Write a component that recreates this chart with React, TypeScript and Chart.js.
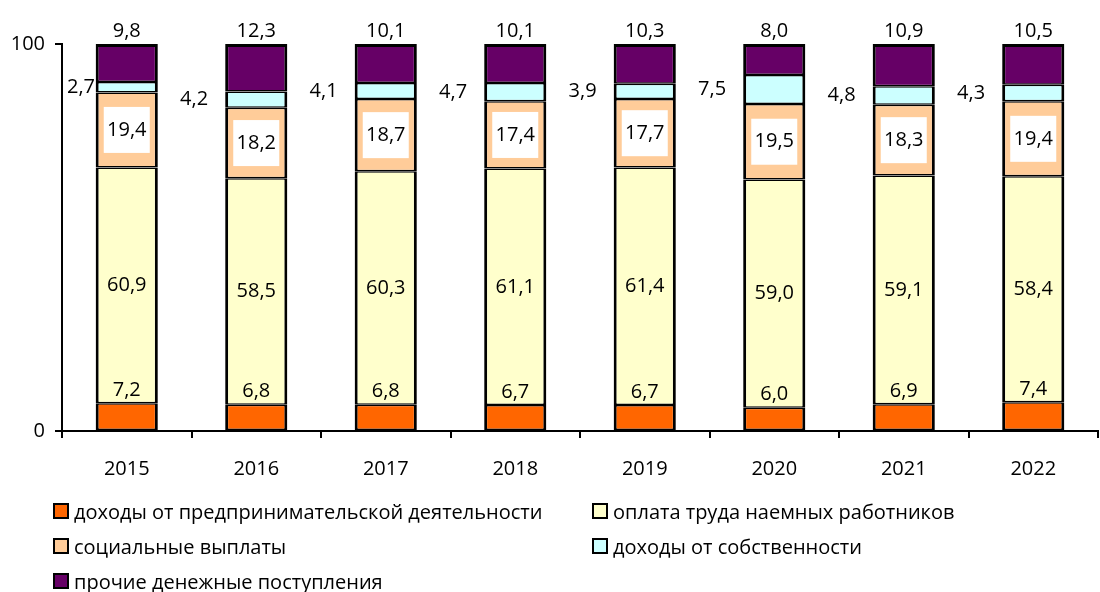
import React, { useEffect, useRef } from "react";
import { Chart, registerables } from "chart.js";

Chart.register(...registerables);

const years = ["2015", "2016", "2017", "2018", "2019", "2020", "2021", "2022"];
const entrepreneurial = [7.2, 6.8, 6.8, 6.7, 6.7, 6.0, 6.9, 7.4];
const wages = [60.9, 58.5, 60.3, 61.1, 61.4, 59.0, 59.1, 58.4];
const social = [19.4, 18.2, 18.7, 17.4, 17.7, 19.5, 18.3, 19.4];
const property = [2.7, 4.2, 4.1, 4.7, 3.9, 7.5, 4.8, 4.3];
const other = [9.8, 12.3, 10.1, 10.1, 10.3, 8.0, 10.9, 10.5];

const seriesNames = [
  "доходы от предпринимательской деятельности",
  "оплата труда наемных работников",
  "социальные выплаты",
  "доходы от собственности",
  "прочие денежные поступления",
];
const seriesColors = ["#FF6600", "#FFFFCC", "#FFCC99", "#CCFFFF", "#660066"];
const yTicks = [0, 100];

const FONT = "'Open Sans', sans-serif";
const FS = 20;

const fmt = (v: number) => v.toFixed(1).replace(".", ",");

const labelPlugin = {
  id: "segLabels",
  afterDatasetsDraw(chart: any) {
    const ctx = chart.ctx;
    const area = chart.chartArea;
    ctx.save();
    ctx.font = `${FS}px ${FONT}`;
    ctx.fillStyle = "#000";
    ctx.textBaseline = "middle";
    chart.data.datasets.forEach((ds: any, di: number) => {
      const meta = chart.getDatasetMeta(di);
      meta.data.forEach((bar: any, i: number) => {
        const txt = fmt(ds.data[i]);
        const p = bar.getProps(["x", "y", "base", "width"], true);
        const top = Math.min(p.y, p.base);
        const bottom = Math.max(p.y, p.base);
        const cy = (top + bottom) / 2;
        if (di === 0) {
          ctx.textAlign = "center";
          ctx.fillText(txt, p.x, top - 13);
        } else if (di === 1) {
          ctx.textAlign = "center";
          ctx.fillText(txt, p.x, cy);
        } else if (di === 2) {
          ctx.fillStyle = "#FFFFFF";
          ctx.fillRect(p.x - 23, cy - 23, 46, 46);
          ctx.fillStyle = "#000";
          ctx.textAlign = "center";
          ctx.fillText(txt, p.x, cy);
        } else if (di === 3) {
          const tw = ctx.measureText(txt).width;
          let right = p.x - p.width / 2 - 17;
          if (right - tw < area.left + 5) right = area.left + 5 + tw;
          ctx.textAlign = "right";
          ctx.fillText(txt, right, cy);
        } else {
          ctx.textAlign = "center";
          ctx.fillText(txt, p.x, top - 13);
        }
      });
    });
    ctx.restore();
  },
};

export default function App() {
  const ref = useRef<HTMLCanvasElement | null>(null);

  useEffect(() => {
    if (!ref.current) return;
    const seriesData = [entrepreneurial, wages, social, property, other];
    const chart = new Chart(ref.current, {
      type: "bar",
      data: {
        labels: years,
        datasets: seriesData.map((d, i) => ({
          label: seriesNames[i],
          data: d,
          backgroundColor: seriesColors[i],
          borderColor: "#000000",
          borderWidth:
            i === 4
              ? { left: 3, right: 3, top: 3, bottom: 1.5 }
              : { left: 3, right: 3, top: 1.5, bottom: 1.5 },
          borderSkipped: false,
          categoryPercentage: 1,
          barPercentage: 0.48,
        })),
      },
      options: {
        responsive: false,
        animation: false,
        layout: { padding: { top: 44, right: 2, left: 0, bottom: 0 } },
        plugins: { legend: { display: false }, tooltip: { enabled: false } },
        scales: {
          x: {
            stacked: true,
            afterFit: (s: any) => {
              s.height = 592 - 431;
            },
            grid: {
              drawOnChartArea: false,
              drawTicks: true,
              tickLength: 7,
              color: "#000",
              lineWidth: 2,
              offset: true,
            },
            border: { display: true, color: "#000", width: 2 },
            ticks: {
              color: "#000",
              font: { family: FONT, size: FS },
              padding: 19,
            },
          },
          y: {
            stacked: true,
            min: 0,
            max: 100,
            afterFit: (s: any) => {
              s.width = 62;
            },
            afterBuildTicks: (s: any) => {
              s.ticks = yTicks.map((v) => ({ value: v }));
            },
            grid: {
              drawOnChartArea: false,
              drawTicks: true,
              tickLength: 7,
              color: "#000",
              lineWidth: 2,
            },
            border: { display: true, color: "#000", width: 2 },
            ticks: {
              color: "#000",
              font: { family: FONT, size: FS },
              padding: 10,
            },
          },
        },
      },
      plugins: [labelPlugin],
    });
    return () => chart.destroy();
  }, []);

  const legendPos = [
    { left: 53, top: 511 },
    { left: 592, top: 511 },
    { left: 53, top: 546 },
    { left: 592, top: 546 },
    { left: 53, top: 581 },
  ];

  return (
    <div style={{ position: "absolute", left: 0, top: 0, width: 1100, height: 592, background: "#fff" }}>
      <canvas ref={ref} width={1100} height={592} style={{ display: "block" }} />
      {seriesNames.map((n, i) => (
        <div
          key={n}
          style={{
            position: "absolute",
            left: legendPos[i].left,
            top: legendPos[i].top - 13,
            height: 26,
            display: "flex",
            alignItems: "center",
            fontFamily: FONT,
            fontSize: FS,
            color: "#000",
            whiteSpace: "nowrap",
          }}
        >
          <span
            style={{
              display: "inline-block",
              width: 12,
              height: 12,
              border: "2px solid #000",
              background: seriesColors[i],
              marginRight: 5,
            }}
          />
          <span>{n}</span>
        </div>
      ))}
    </div>
  );
}
